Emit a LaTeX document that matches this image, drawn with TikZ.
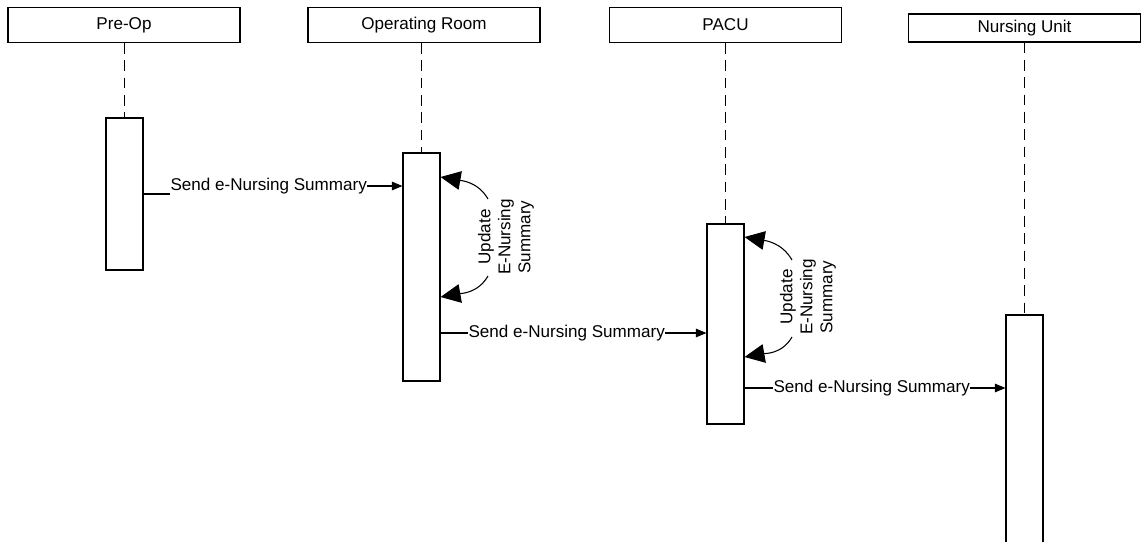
\documentclass[tikz,border=0pt]{standalone}
\usepackage{fontspec}
\setmainfont{Liberation Sans}
\usetikzlibrary{arrows.meta}
\begin{document}
\begin{tikzpicture}[x=0.75pt,y=-0.75pt,
  line width=0.8pt,
  every node/.style={font=\fontsize{12.8}{15}\selectfont},
  head/.style={draw, minimum width=174pt, minimum height=26pt, inner sep=0pt},
  act/.style={draw, fill=white, minimum width=27.75pt, inner sep=0pt},
  life/.style={dash pattern=on 8pt off 5pt},
  msg/.style={inner sep=0pt, anchor=west},
  msgarrow/.style={-{Triangle[length=8pt,width=6.5pt]}},
  selfarrow/.style={-{Triangle[length=15pt,width=14pt]}},
  selflabel/.style={rotate=90, align=center, inner sep=0pt}]
\useasboundingbox (0,0) rectangle (1142,542);
% headers
\node[head] (h1) at (124,25) {Pre-Op};
\node[head] (h2) at (424,25) {Operating Room};
\node[head] (h3) at (725.5,25) {PACU};
\node[head, minimum height=21pt] (h4) at (1024.5,28) {Nursing Unit};
% activation boxes
\node[act, minimum height=114pt] (a1) at (124.5,194) {};
\node[act, minimum height=171pt] (a2) at (421.5,267) {};
\node[act, minimum height=150pt] (a3) at (725.5,324) {};
\node[act, minimum height=174pt] (a4) at (1024.5,431) {};
% lifelines
\draw[life] (a1.north |- h1.south) -- (a1.north);
\draw[life] (a2.north |- h2.south) -- (a2.north);
\draw[life] (a3.north |- h3.south) -- (a3.north);
\draw[life] (a4.north |- h4.south) -- (a4.north);
% message 1
\coordinate (m1l) at (170,194);
\node[msg] (m1) at (170,186) {Send e-Nursing Summary};
\draw (a1.east |- m1l) -- (m1l);
\draw[msgarrow] (m1.east) -- (a2.west |- m1.east);
% message 2
\node[msg] (m2) at (468,333) {Send e-Nursing Summary};
\draw (a2.east |- m2.west) -- (m2.west);
\draw[msgarrow] (m2.east) -- (a3.west |- m2.east);
% message 3
\node[msg] (m3) at (773,388) {Send e-Nursing Summary};
\draw (a3.east |- m3.west) -- (m3.west);
\draw[msgarrow] (m3.east) -- (a4.west |- m3.east);
% self updates on OR
\coordinate (s1a) at (488,199);
\coordinate (s1b) at (488,276);
\coordinate (t1a) at (441,177);
\coordinate (t1b) at (441,297);
\draw[selfarrow] (s1a) to[out=120,in=-10] (a2.east |- t1a);
\draw[selfarrow] (s1b) to[out=-120,in=10] (a2.east |- t1b);
\node[selflabel] (u1) at (506,237) {Update\\E-Nursing\\Summary};
% self updates on PACU
\coordinate (s2a) at (792,260);
\coordinate (s2b) at (792,337);
\coordinate (t2a) at (745,237);
\coordinate (t2b) at (745,357);
\draw[selfarrow] (s2a) to[out=120,in=-10] (a3.east |- t2a);
\draw[selfarrow] (s2b) to[out=-120,in=10] (a3.east |- t2b);
\node[selflabel] (u2) at (808,297) {Update\\E-Nursing\\Summary};
\end{tikzpicture}
\end{document}
